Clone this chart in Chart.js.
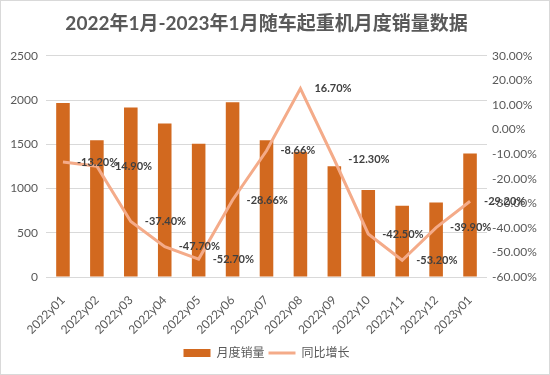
<!DOCTYPE html>
<html>
<head>
<meta charset="utf-8">
<script src="https://cdn.jsdelivr.net/npm/chart.js@4"></script>
<style>
  body { margin: 0; background: #fff; }
</style>
</head>
<body>
<canvas id="myChart" width="550" height="375"></canvas>
<script>
const months = ['2022y01', '2022y02', '2022y03', '2022y04', '2022y05', '2022y06', '2022y07',
  '2022y08', '2022y09', '2022y10', '2022y11', '2022y12', '2023y01'];
const sales = [1967, 1545, 1915, 1735, 1505, 1975, 1545, 1415, 1253, 982, 805, 843, 1396];
const growth = [-13.2, -14.9, -37.4, -47.7, -52.7, -28.66, -8.66, 16.7, -12.3, -42.5, -53.2, -39.9, -29.2];

Chart.defaults.font.family = "Lato, 'Noto Sans CJK SC', sans-serif";
Chart.defaults.color = '#595959';

// white background + thin frame like the screenshot
const frame = {
  id: 'frame',
  beforeDraw(chart) {
    const c = chart.ctx;
    c.save();
    c.fillStyle = '#fff';
    c.fillRect(0, 0, chart.width, chart.height);
    c.strokeStyle = '#d9d9d9';
    c.lineWidth = 1;
    c.strokeRect(0.5, 0.5, chart.width - 1, chart.height - 1);
    c.restore();
  }
};

// percentage labels to the right of each line point
const pctLabels = {
  id: 'pctLabels',
  afterDatasetsDraw(chart) {
    const meta = chart.getDatasetMeta(1);
    const c = chart.ctx;
    c.save();
    c.font = "bold 11px Lato, sans-serif";
    c.fillStyle = '#404040';
    c.textAlign = 'left';
    c.textBaseline = 'middle';
    meta.data.forEach((pt, i) => {
      c.fillText(growth[i].toFixed(2) + '%', pt.x + 14, pt.y);
    });
    c.restore();
  }
};

const ctx = document.getElementById('myChart');

new Chart(ctx, {
  data: {
    labels: months,
    datasets: [{
      type: 'bar',
      label: '月度销量',
      data: sales,
      backgroundColor: '#D2691F',
      borderWidth: 0,
      barPercentage: 0.4,
      categoryPercentage: 1,
      yAxisID: 'y',
      order: 1
    },
    {
      type: 'line',
      label: '同比增长',
      data: growth,
      borderColor: '#F4AB89',
      backgroundColor: '#F4AB89',
      borderWidth: 3,
      pointRadius: 0,
      tension: 0,
      yAxisID: 'y1',
      order: 0
    }]
  },
  options: {
    responsive: false,
    animation: false,
    layout: { padding: { left: 0, right: 0, top: 0, bottom: 6 } },
    plugins: {
      title: {
        display: true,
        fullSize: false,
        text: '2022年1月-2023年1月随车起重机月度销量数据',
        color: '#595959',
        font: { size: 19, weight: 'bold' },
        padding: { top: 12, bottom: 21 }
      },
      legend: {
        position: 'bottom',
        fullSize: false,
        labels: {
          usePointStyle: true,
          pointStyleWidth: 27,
          boxHeight: 8,
          padding: 4,
          color: '#595959',
          font: { size: 12 },
          sort: (a, b) => a.datasetIndex - b.datasetIndex,
          generateLabels(chart) {
            const items = Chart.defaults.plugins.legend.labels.generateLabels(chart);
            items.forEach(it => {
              it.pointStyle = it.datasetIndex === 1 ? 'line' : 'rect';
            });
            return items;
          }
        }
      },
      tooltip: { enabled: false }
    },
    scales: {
      x: {
        grid: { display: false },
        border: { display: false },
        ticks: { minRotation: 45, maxRotation: 45, padding: 8, font: { size: 12 } },
        afterFit(scale) { scale.height = 66; }
      },
      y: {
        position: 'left',
        min: 0,
        max: 2500,
        ticks: { stepSize: 500, padding: 8, font: { size: 12 }, callback: v => String(v) },
        grid: { color: '#d9d9d9', drawTicks: false },
        border: { display: false },
        afterFit(scale) { scale.width = 46; }
      },
      y1: {
        position: 'right',
        min: -60,
        max: 30,
        ticks: {
          stepSize: 10,
          padding: 5,
          font: { size: 12 },
          callback: v => v.toFixed(2) + '%'
        },
        grid: { display: false, drawTicks: false },
        border: { display: false },
        afterFit(scale) { scale.width = 63; }
      }
    }
  },
  plugins: [frame, pctLabels]
});
</script>
</body>
</html>
